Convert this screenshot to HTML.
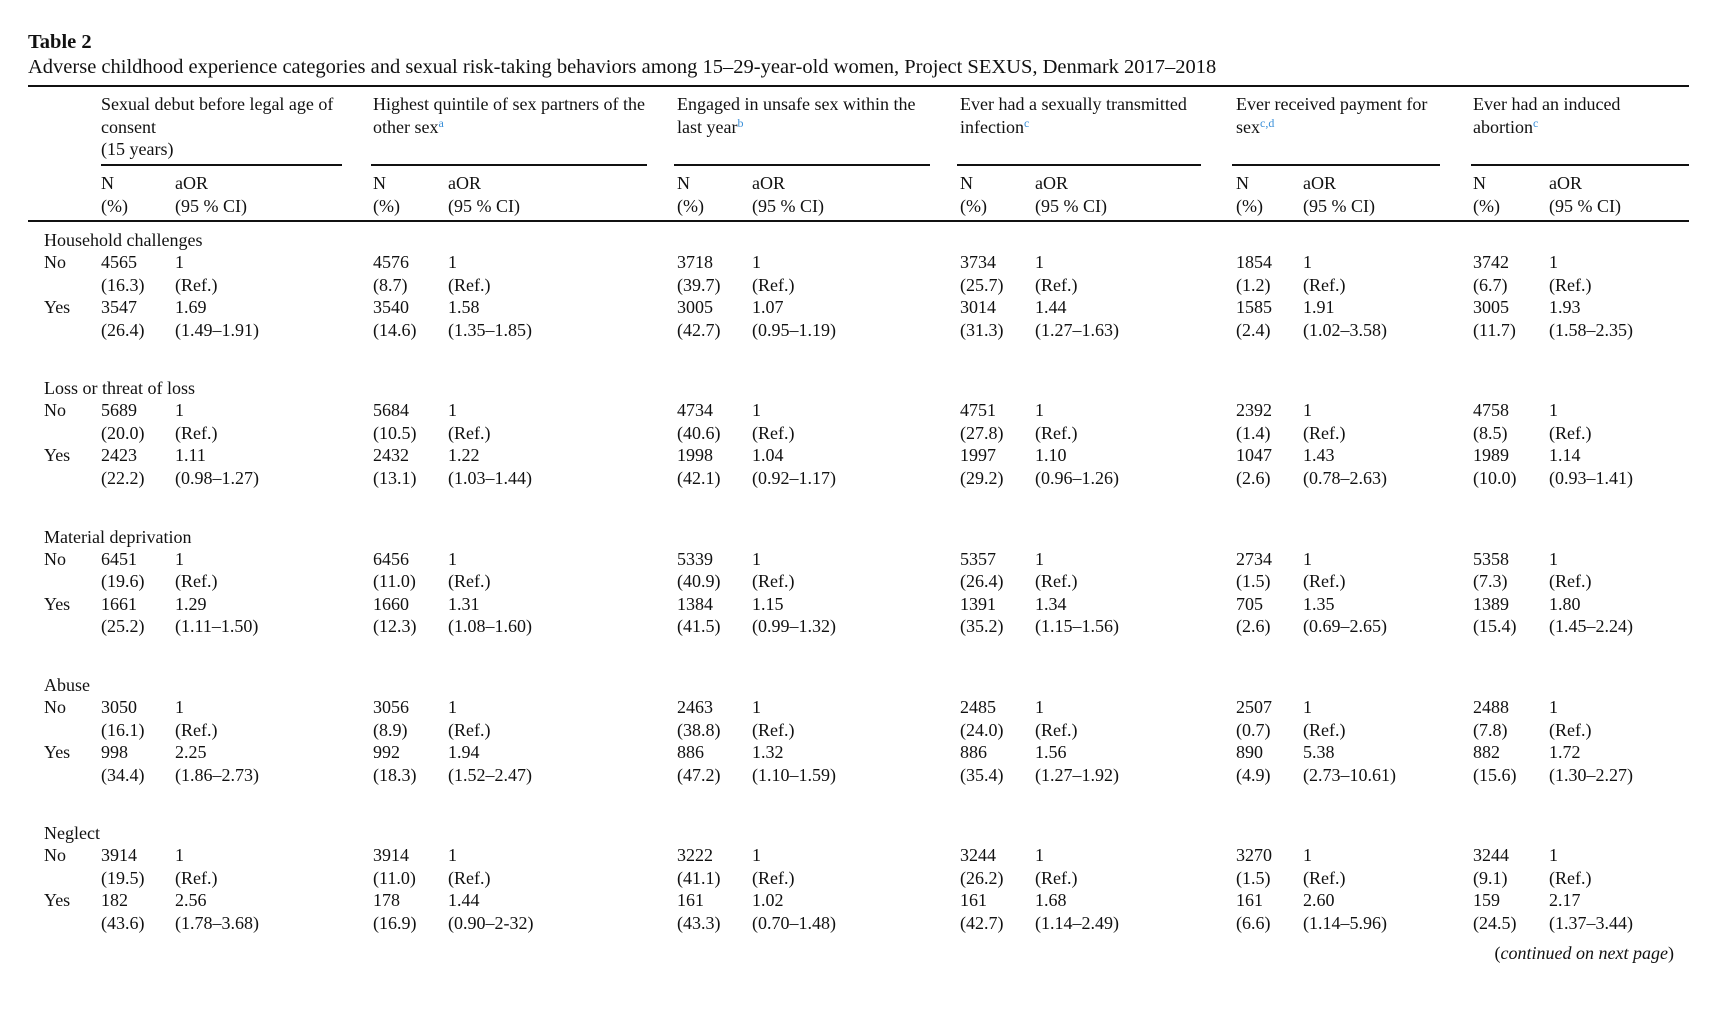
<!DOCTYPE html>
<html><head><meta charset="utf-8"><style>
body{margin:0;background:#fff;}
#p{position:relative;width:1720px;height:1016px;overflow:hidden;font-family:"Liberation Serif",serif;font-size:18px;color:#111;}
#p div{position:absolute;white-space:nowrap;line-height:22px;}
.r{position:absolute;background:#111;height:2px;}
sup{color:#3a8fd8;font-size:12px;vertical-align:6px;line-height:0}
.l span{position:absolute;top:0}
</style></head><body><div id="p">
<div style="left:28px;top:31px;font-size:20.5px;font-weight:bold">Table 2</div>
<div style="left:28px;top:56px;font-size:20.5px">Adverse childhood experience categories and sexual risk-taking behaviors among 15–29-year-old women, Project SEXUS, Denmark 2017–2018</div>
<div class="r" style="left:28px;top:85px;width:1661px"></div>
<div style="left:101px;top:93px;line-height:22.5px">Sexual debut before legal age of<br>consent<br>(15 years)</div>
<div style="left:373px;top:93px;line-height:22.5px">Highest quintile of sex partners of the<br>other sex<sup>a</sup></div>
<div style="left:677px;top:93px;line-height:22.5px">Engaged in unsafe sex within the<br>last year<sup>b</sup></div>
<div style="left:960px;top:93px;line-height:22.5px">Ever had a sexually transmitted<br>infection<sup>c</sup></div>
<div style="left:1236px;top:93px;line-height:22.5px">Ever received payment for<br>sex<sup>c,d</sup></div>
<div style="left:1473px;top:93px;line-height:22.5px">Ever had an induced<br>abortion<sup>c</sup></div>
<div class="r" style="left:101px;top:164px;width:241px"></div>
<div class="r" style="left:371px;top:164px;width:276px"></div>
<div class="r" style="left:674px;top:164px;width:256px"></div>
<div class="r" style="left:957px;top:164px;width:244px"></div>
<div class="r" style="left:1232px;top:164px;width:208px"></div>
<div class="r" style="left:1471px;top:164px;width:218px"></div>
<div class="l" style="left:0;top:172px;width:1720px;height:22px"><span style="left:101px">N</span><span style="left:175px">aOR</span><span style="left:373px">N</span><span style="left:448px">aOR</span><span style="left:677px">N</span><span style="left:752px">aOR</span><span style="left:960px">N</span><span style="left:1035px">aOR</span><span style="left:1236px">N</span><span style="left:1303px">aOR</span><span style="left:1473px">N</span><span style="left:1549px">aOR</span></div>
<div class="l" style="left:0;top:195px;width:1720px;height:22px"><span style="left:101px">(%)</span><span style="left:175px">(95 % CI)</span><span style="left:373px">(%)</span><span style="left:448px">(95 % CI)</span><span style="left:677px">(%)</span><span style="left:752px">(95 % CI)</span><span style="left:960px">(%)</span><span style="left:1035px">(95 % CI)</span><span style="left:1236px">(%)</span><span style="left:1303px">(95 % CI)</span><span style="left:1473px">(%)</span><span style="left:1549px">(95 % CI)</span></div>
<div class="r" style="left:28px;top:220px;width:1661px"></div>

<div style="left:44px;top:229px">Household challenges</div>
<div class="l" style="left:0;top:251px;width:1720px;height:22px"><span style="left:44px">No</span><span style="left:101px">4565</span><span style="left:175px">1</span><span style="left:373px">4576</span><span style="left:448px">1</span><span style="left:677px">3718</span><span style="left:752px">1</span><span style="left:960px">3734</span><span style="left:1035px">1</span><span style="left:1236px">1854</span><span style="left:1303px">1</span><span style="left:1473px">3742</span><span style="left:1549px">1</span></div>
<div class="l" style="left:0;top:274px;width:1720px;height:22px"><span style="left:101px">(16.3)</span><span style="left:175px">(Ref.)</span><span style="left:373px">(8.7)</span><span style="left:448px">(Ref.)</span><span style="left:677px">(39.7)</span><span style="left:752px">(Ref.)</span><span style="left:960px">(25.7)</span><span style="left:1035px">(Ref.)</span><span style="left:1236px">(1.2)</span><span style="left:1303px">(Ref.)</span><span style="left:1473px">(6.7)</span><span style="left:1549px">(Ref.)</span></div>
<div class="l" style="left:0;top:296px;width:1720px;height:22px"><span style="left:44px">Yes</span><span style="left:101px">3547</span><span style="left:175px">1.69</span><span style="left:373px">3540</span><span style="left:448px">1.58</span><span style="left:677px">3005</span><span style="left:752px">1.07</span><span style="left:960px">3014</span><span style="left:1035px">1.44</span><span style="left:1236px">1585</span><span style="left:1303px">1.91</span><span style="left:1473px">3005</span><span style="left:1549px">1.93</span></div>
<div class="l" style="left:0;top:319px;width:1720px;height:22px"><span style="left:101px">(26.4)</span><span style="left:175px">(1.49–1.91)</span><span style="left:373px">(14.6)</span><span style="left:448px">(1.35–1.85)</span><span style="left:677px">(42.7)</span><span style="left:752px">(0.95–1.19)</span><span style="left:960px">(31.3)</span><span style="left:1035px">(1.27–1.63)</span><span style="left:1236px">(2.4)</span><span style="left:1303px">(1.02–3.58)</span><span style="left:1473px">(11.7)</span><span style="left:1549px">(1.58–2.35)</span></div>

<div style="left:44px;top:377px">Loss or threat of loss</div>
<div class="l" style="left:0;top:399px;width:1720px;height:22px"><span style="left:44px">No</span><span style="left:101px">5689</span><span style="left:175px">1</span><span style="left:373px">5684</span><span style="left:448px">1</span><span style="left:677px">4734</span><span style="left:752px">1</span><span style="left:960px">4751</span><span style="left:1035px">1</span><span style="left:1236px">2392</span><span style="left:1303px">1</span><span style="left:1473px">4758</span><span style="left:1549px">1</span></div>
<div class="l" style="left:0;top:422px;width:1720px;height:22px"><span style="left:101px">(20.0)</span><span style="left:175px">(Ref.)</span><span style="left:373px">(10.5)</span><span style="left:448px">(Ref.)</span><span style="left:677px">(40.6)</span><span style="left:752px">(Ref.)</span><span style="left:960px">(27.8)</span><span style="left:1035px">(Ref.)</span><span style="left:1236px">(1.4)</span><span style="left:1303px">(Ref.)</span><span style="left:1473px">(8.5)</span><span style="left:1549px">(Ref.)</span></div>
<div class="l" style="left:0;top:444px;width:1720px;height:22px"><span style="left:44px">Yes</span><span style="left:101px">2423</span><span style="left:175px">1.11</span><span style="left:373px">2432</span><span style="left:448px">1.22</span><span style="left:677px">1998</span><span style="left:752px">1.04</span><span style="left:960px">1997</span><span style="left:1035px">1.10</span><span style="left:1236px">1047</span><span style="left:1303px">1.43</span><span style="left:1473px">1989</span><span style="left:1549px">1.14</span></div>
<div class="l" style="left:0;top:467px;width:1720px;height:22px"><span style="left:101px">(22.2)</span><span style="left:175px">(0.98–1.27)</span><span style="left:373px">(13.1)</span><span style="left:448px">(1.03–1.44)</span><span style="left:677px">(42.1)</span><span style="left:752px">(0.92–1.17)</span><span style="left:960px">(29.2)</span><span style="left:1035px">(0.96–1.26)</span><span style="left:1236px">(2.6)</span><span style="left:1303px">(0.78–2.63)</span><span style="left:1473px">(10.0)</span><span style="left:1549px">(0.93–1.41)</span></div>

<div style="left:44px;top:526px">Material deprivation</div>
<div class="l" style="left:0;top:548px;width:1720px;height:22px"><span style="left:44px">No</span><span style="left:101px">6451</span><span style="left:175px">1</span><span style="left:373px">6456</span><span style="left:448px">1</span><span style="left:677px">5339</span><span style="left:752px">1</span><span style="left:960px">5357</span><span style="left:1035px">1</span><span style="left:1236px">2734</span><span style="left:1303px">1</span><span style="left:1473px">5358</span><span style="left:1549px">1</span></div>
<div class="l" style="left:0;top:570px;width:1720px;height:22px"><span style="left:101px">(19.6)</span><span style="left:175px">(Ref.)</span><span style="left:373px">(11.0)</span><span style="left:448px">(Ref.)</span><span style="left:677px">(40.9)</span><span style="left:752px">(Ref.)</span><span style="left:960px">(26.4)</span><span style="left:1035px">(Ref.)</span><span style="left:1236px">(1.5)</span><span style="left:1303px">(Ref.)</span><span style="left:1473px">(7.3)</span><span style="left:1549px">(Ref.)</span></div>
<div class="l" style="left:0;top:593px;width:1720px;height:22px"><span style="left:44px">Yes</span><span style="left:101px">1661</span><span style="left:175px">1.29</span><span style="left:373px">1660</span><span style="left:448px">1.31</span><span style="left:677px">1384</span><span style="left:752px">1.15</span><span style="left:960px">1391</span><span style="left:1035px">1.34</span><span style="left:1236px">705</span><span style="left:1303px">1.35</span><span style="left:1473px">1389</span><span style="left:1549px">1.80</span></div>
<div class="l" style="left:0;top:615px;width:1720px;height:22px"><span style="left:101px">(25.2)</span><span style="left:175px">(1.11–1.50)</span><span style="left:373px">(12.3)</span><span style="left:448px">(1.08–1.60)</span><span style="left:677px">(41.5)</span><span style="left:752px">(0.99–1.32)</span><span style="left:960px">(35.2)</span><span style="left:1035px">(1.15–1.56)</span><span style="left:1236px">(2.6)</span><span style="left:1303px">(0.69–2.65)</span><span style="left:1473px">(15.4)</span><span style="left:1549px">(1.45–2.24)</span></div>

<div style="left:44px;top:674px">Abuse</div>
<div class="l" style="left:0;top:696px;width:1720px;height:22px"><span style="left:44px">No</span><span style="left:101px">3050</span><span style="left:175px">1</span><span style="left:373px">3056</span><span style="left:448px">1</span><span style="left:677px">2463</span><span style="left:752px">1</span><span style="left:960px">2485</span><span style="left:1035px">1</span><span style="left:1236px">2507</span><span style="left:1303px">1</span><span style="left:1473px">2488</span><span style="left:1549px">1</span></div>
<div class="l" style="left:0;top:719px;width:1720px;height:22px"><span style="left:101px">(16.1)</span><span style="left:175px">(Ref.)</span><span style="left:373px">(8.9)</span><span style="left:448px">(Ref.)</span><span style="left:677px">(38.8)</span><span style="left:752px">(Ref.)</span><span style="left:960px">(24.0)</span><span style="left:1035px">(Ref.)</span><span style="left:1236px">(0.7)</span><span style="left:1303px">(Ref.)</span><span style="left:1473px">(7.8)</span><span style="left:1549px">(Ref.)</span></div>
<div class="l" style="left:0;top:741px;width:1720px;height:22px"><span style="left:44px">Yes</span><span style="left:101px">998</span><span style="left:175px">2.25</span><span style="left:373px">992</span><span style="left:448px">1.94</span><span style="left:677px">886</span><span style="left:752px">1.32</span><span style="left:960px">886</span><span style="left:1035px">1.56</span><span style="left:1236px">890</span><span style="left:1303px">5.38</span><span style="left:1473px">882</span><span style="left:1549px">1.72</span></div>
<div class="l" style="left:0;top:764px;width:1720px;height:22px"><span style="left:101px">(34.4)</span><span style="left:175px">(1.86–2.73)</span><span style="left:373px">(18.3)</span><span style="left:448px">(1.52–2.47)</span><span style="left:677px">(47.2)</span><span style="left:752px">(1.10–1.59)</span><span style="left:960px">(35.4)</span><span style="left:1035px">(1.27–1.92)</span><span style="left:1236px">(4.9)</span><span style="left:1303px">(2.73–10.61)</span><span style="left:1473px">(15.6)</span><span style="left:1549px">(1.30–2.27)</span></div>

<div style="left:44px;top:822px">Neglect</div>
<div class="l" style="left:0;top:844px;width:1720px;height:22px"><span style="left:44px">No</span><span style="left:101px">3914</span><span style="left:175px">1</span><span style="left:373px">3914</span><span style="left:448px">1</span><span style="left:677px">3222</span><span style="left:752px">1</span><span style="left:960px">3244</span><span style="left:1035px">1</span><span style="left:1236px">3270</span><span style="left:1303px">1</span><span style="left:1473px">3244</span><span style="left:1549px">1</span></div>
<div class="l" style="left:0;top:867px;width:1720px;height:22px"><span style="left:101px">(19.5)</span><span style="left:175px">(Ref.)</span><span style="left:373px">(11.0)</span><span style="left:448px">(Ref.)</span><span style="left:677px">(41.1)</span><span style="left:752px">(Ref.)</span><span style="left:960px">(26.2)</span><span style="left:1035px">(Ref.)</span><span style="left:1236px">(1.5)</span><span style="left:1303px">(Ref.)</span><span style="left:1473px">(9.1)</span><span style="left:1549px">(Ref.)</span></div>
<div class="l" style="left:0;top:889px;width:1720px;height:22px"><span style="left:44px">Yes</span><span style="left:101px">182</span><span style="left:175px">2.56</span><span style="left:373px">178</span><span style="left:448px">1.44</span><span style="left:677px">161</span><span style="left:752px">1.02</span><span style="left:960px">161</span><span style="left:1035px">1.68</span><span style="left:1236px">161</span><span style="left:1303px">2.60</span><span style="left:1473px">159</span><span style="left:1549px">2.17</span></div>
<div class="l" style="left:0;top:912px;width:1720px;height:22px"><span style="left:101px">(43.6)</span><span style="left:175px">(1.78–3.68)</span><span style="left:373px">(16.9)</span><span style="left:448px">(0.90–2-32)</span><span style="left:677px">(43.3)</span><span style="left:752px">(0.70–1.48)</span><span style="left:960px">(42.7)</span><span style="left:1035px">(1.14–2.49)</span><span style="left:1236px">(6.6)</span><span style="left:1303px">(1.14–5.96)</span><span style="left:1473px">(24.5)</span><span style="left:1549px">(1.37–3.44)</span></div>

<div style="left:1474px;top:942px;width:200px;text-align:right">(<i>continued on next page</i>)</div>
</div></body></html>
